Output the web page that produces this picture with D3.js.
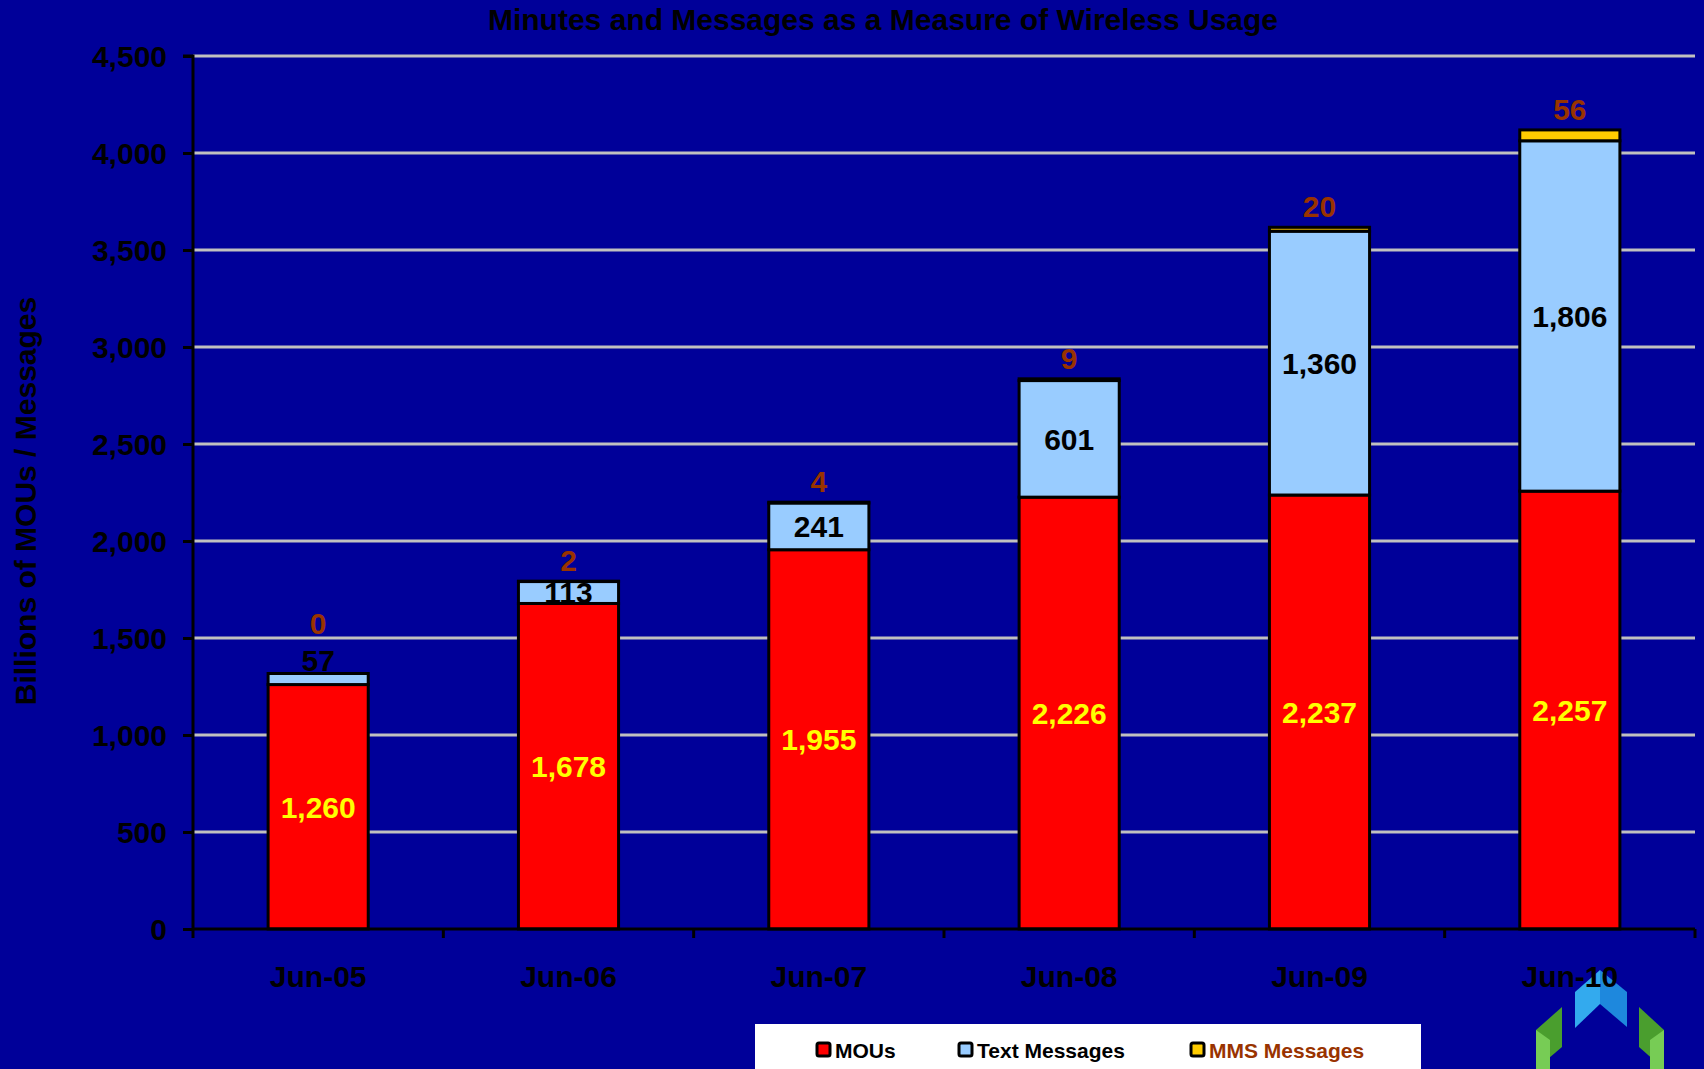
<!DOCTYPE html>
<html><head><meta charset="utf-8">
<script src="https://cdnjs.cloudflare.com/ajax/libs/d3/7.8.5/d3.min.js"></script>
<style>html,body{margin:0;padding:0;background:#000099;overflow:hidden}</style>
</head><body>
<svg id="c" width="1704" height="1069"></svg>
<script>
const categories = ["Jun-05","Jun-06","Jun-07","Jun-08","Jun-09","Jun-10"];
const mous = [1260,1678,1955,2226,2237,2257];
const texts = [57,113,241,601,1360,1806];
const mms = [0,2,4,9,20,56];
const yTicks = [0,500,1000,1500,2000,2500,3000,3500,4000,4500];
const seriesNames = ["MOUs","Text Messages","MMS Messages"];

(function(){
const W=1704,H=1069;
const svg=d3.select("#c");
svg.append("rect").attr("width",W).attr("height",H).attr("fill","#000099");
const pL=193,pR=1695,pT=56,pB=929;
const x=d3.scaleBand().domain(categories).range([pL,pR]).padding(0);
const y=d3.scaleLinear().domain([0,4500]).range([pB,pT]);
const fmt=d3.format(",");
const font="Liberation Sans, Arial, sans-serif";

// logo (behind labels)
const logo=svg.append("g");
const polys=[
  [[1575,992],[1600,970],[1600,1004],[1575,1028],"#33AAEE"],
  [[1600,970],[1627,992],[1627,1027],[1600,1004],"#1E88DD"],
  [[1536,1030],[1562,1007],[1562,1047],[1536,1069],"#4A9E2E"],
  [[1639,1007],[1664,1030],[1664,1069],[1639,1047],"#4A9E2E"],
  [[1536,1030],[1550,1040],[1550,1069],[1536,1069],"#77CC55"],
  [[1650,1040],[1664,1030],[1664,1069],[1650,1069],"#77CC55"]
];
polys.forEach(p=>{
  const col=p.pop();
  logo.append("polygon").attr("points",p.map(q=>q.join(",")).join(" ")).attr("fill",col);
});

svg.append("g").selectAll("line").data(yTicks.filter(d=>d>0)).join("line")
  .attr("x1",pL).attr("x2",pR).attr("y1",d=>y(d)).attr("y2",d=>y(d))
  .attr("stroke","#C0C0C0").attr("stroke-width",3);

svg.append("text").attr("x",883).attr("y",30).attr("text-anchor","middle")
  .attr("font-family",font).attr("font-weight","bold").attr("font-size",30)
  .attr("fill","#000").text("Minutes and Messages as a Measure of Wireless Usage");

svg.append("text").attr("transform","translate(36,501) rotate(-90)").attr("text-anchor","middle")
  .attr("font-family",font).attr("font-weight","bold").attr("font-size",30)
  .attr("fill","#000").text("Billions of MOUs / Messages");

const data=categories.map((c,i)=>({c,m:mous[i],t:texts[i],s:mms[i]}));
const colors=["#FF0000","#99CCFF","#FFCC00"];
const stack=d3.stack().keys(["m","t","s"])(data);
const bw=x.bandwidth()*0.4;
const bx=c=>x(c)+x.bandwidth()/2-bw/2;

stack.forEach((layer,li)=>{
  svg.append("g").selectAll("rect").data(layer).join("rect")
    .attr("x",d=>bx(d.data.c)).attr("width",bw)
    .attr("y",d=>y(d[1])).attr("height",d=>y(d[0])-y(d[1]))
    .attr("fill",colors[li]).attr("stroke","#000").attr("stroke-width",3);
});

const ya=svg.append("g").attr("transform",`translate(${pL},0)`)
  .call(d3.axisLeft(y).tickValues(yTicks).tickFormat(fmt).tickSize(10).tickPadding(16));
ya.select(".domain").attr("stroke","#000").attr("stroke-width",3).attr("d",`M-10,${pT}H0V${pB}`);
ya.selectAll(".tick line").attr("stroke","#000").attr("stroke-width",3);
ya.selectAll(".tick text").attr("font-family",font).attr("font-weight","bold").attr("font-size",30).attr("fill","#000").attr("dy","0.36em");

const xa=svg.append("g").attr("transform",`translate(0,${pB})`);
xa.append("line").attr("x1",pL).attr("x2",pR).attr("stroke","#000").attr("stroke-width",3);
xa.selectAll(".tk").data(categories.map(c=>x(c)).concat([pR])).join("line")
  .attr("x1",d=>d).attr("x2",d=>d).attr("y1",0).attr("y2",9).attr("stroke","#000").attr("stroke-width",3);
xa.selectAll(".lbl").data(categories).join("text")
  .attr("x",d=>x(d)+x.bandwidth()/2).attr("y",58).attr("text-anchor","middle")
  .attr("font-family",font).attr("font-weight","bold").attr("font-size",30).attr("fill","#000").text(d=>d);

const lab=svg.append("g").attr("font-family",font).attr("font-weight","bold").attr("font-size",30).attr("text-anchor","middle");
data.forEach(d=>{
  const cx=x(d.c)+x.bandwidth()/2;
  lab.append("text").attr("x",cx).attr("y",y(d.m/2)).attr("dy","0.36em").attr("fill","#FFFF00").text(fmt(d.m));
  const th=y(d.m)-y(d.m+d.t);
  let ty, above=false;
  if(th<15){ty=y(d.m+d.t)-3; above=true; lab.append("text").attr("x",cx).attr("y",ty).attr("fill","#000").text(fmt(d.t));}
  else{ty=y(d.m+d.t/2); lab.append("text").attr("x",cx).attr("y",ty).attr("dy","0.36em").attr("fill","#000").text(fmt(d.t));}
  const topY=y(d.m+d.t+d.s);
  const my= above ? ty-37 : topY-10;
  lab.append("text").attr("x",cx).attr("y",my).attr("fill","#993300").text(fmt(d.s));
});

const lg=svg.append("g");
lg.append("rect").attr("x",755).attr("y",1024).attr("width",666).attr("height",60).attr("fill","#fff");
const lx=[817,959,1191];
const lcol=["#000","#000","#993300"];
seriesNames.forEach((n,i)=>{
  lg.append("rect").attr("x",lx[i]).attr("y",1043).attr("width",13).attr("height",13).attr("rx",2)
    .attr("fill",colors[i]).attr("stroke","#000").attr("stroke-width",3);
  lg.append("text").attr("x",lx[i]+18).attr("y",1058).attr("font-family",font).attr("font-weight","bold")
    .attr("font-size",21).attr("fill",lcol[i]).text(n);
});
})();
</script>
</body></html>
